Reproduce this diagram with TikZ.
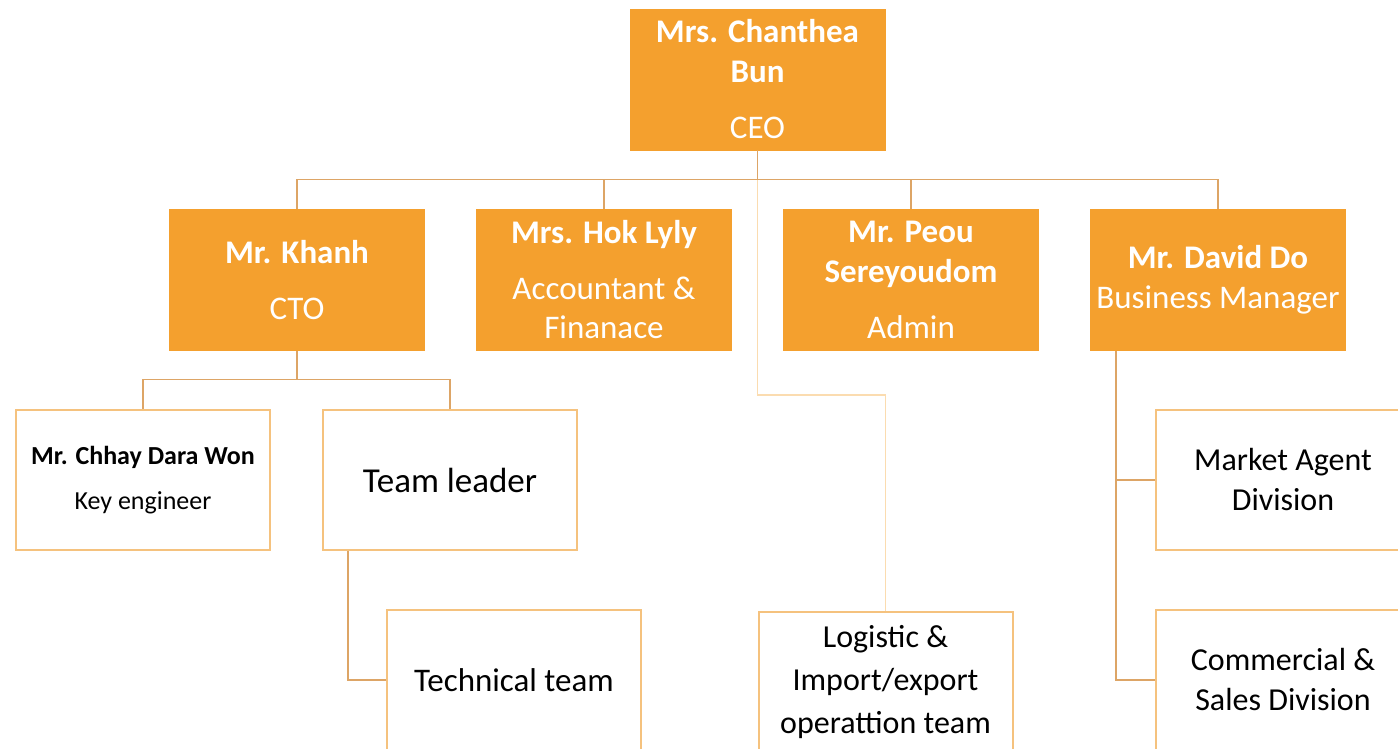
\documentclass[tikz,border=0pt]{standalone}
\usepackage{fontspec}
\setmainfont{Carlito}
\usetikzlibrary{calc,positioning}
\usepackage{xcolor}
\definecolor{boxorange}{HTML}{F4A02E}
\definecolor{edgeorange}{HTML}{F5C27E}
\definecolor{linkorange}{HTML}{DDA566}
\definecolor{paleorange}{HTML}{FBDCB0}

\begin{document}
\begin{tikzpicture}[x=0.5pt, y=-0.5pt,
    head/.style = {fill=boxorange, draw=boxorange, text=white, align=center,
        minimum width=127.5pt, minimum height=70.5pt, inner sep=0pt,
        font=\fontsize{16.5}{20}\selectfont},
    unit/.style = {fill=white, draw=edgeorange, line width=1pt, text=black, align=center,
        minimum width=127pt, minimum height=70pt, inner sep=0pt,
        font=\fontsize{16}{20}\selectfont},
    link/.style = {draw=linkorange, line width=0.75pt},
    node distance=153.5pt]
	\useasboundingbox (0,0) rectangle (1398,749);
	\fill[white] (0,0) rectangle (1398,749);
	\clip (0,0) rectangle (1398,749);
		\node[head] (ceo) at (757.5,79.5) {\textbf{Mrs. Chanthea}\\\textbf{Bun}\\[8pt]CEO};
		\node[head] (khanh) at (297,280) {\textbf{Mr. Khanh}\\[8pt]CTO};
		\node[head] (hok) [right of=khanh] {\textbf{Mrs. Hok Lyly}\\[8pt]Accountant \&\\[-0.5pt]Finanace};
		\node[head] (peou) [right of=hok] {\textbf{Mr. Peou}\\\textbf{Sereyoudom}\\[8pt]Admin};
		\node[head] (david) [right of=peou] {\textbf{Mr. David Do}\\Business Manager};
		\node[unit, font=\fontsize{13}{22.5}\selectfont] (chhay) at (143,480) {\textbf{Mr. Chhay Dara Won}\\Key engineer};
		\node[unit, font=\fontsize{17.5}{20}\selectfont] (lead) at (450,480) {Team leader};
		\node[unit, font=\fontsize{16.5}{20}\selectfont] (tech) at (514,680) {Technical team};
		\node[unit, font=\fontsize{16}{21.5}\selectfont] (logi) at (885.5,682) {Logistic \&\\Import/export\\operattion team};
		\node[unit] (market) at (1283,480) {Market Agent\\Division};
		\node[unit] (comm) at (1283,680) {Commercial \&\\Sales Division};
		\draw[link] (khanh.north) -- ++(0,-29.5) -| (ceo.south);
		\draw[link] (hok.north) -- ++(0,-29.5) -| (ceo.south);
		\draw[link] (peou.north) -- ++(0,-29.5) -| (ceo.south);
		\draw[link] (david.north) -- ++(0,-29.5) -| (ceo.south);
		\draw[link, draw=paleorange] (ceo.south) ++(0,30) |- ($(logi.north)+(0,-216)$) -- (logi.north);
		\draw[link] (chhay.north) -- ++(0,-29.5) -| (khanh.south);
		\draw[link] (lead.north) -- ++(0,-29.5) -| (khanh.south);
		\draw[link] (tech.west) -| ($(lead.south west)+(26,0)$);
		\draw[link] (market.west) -| ($(david.south west)+(26,0)$);
		\draw[link] (comm.west) -| ($(david.south west)+(26,0)$);
	\end{tikzpicture}
\end{document}
